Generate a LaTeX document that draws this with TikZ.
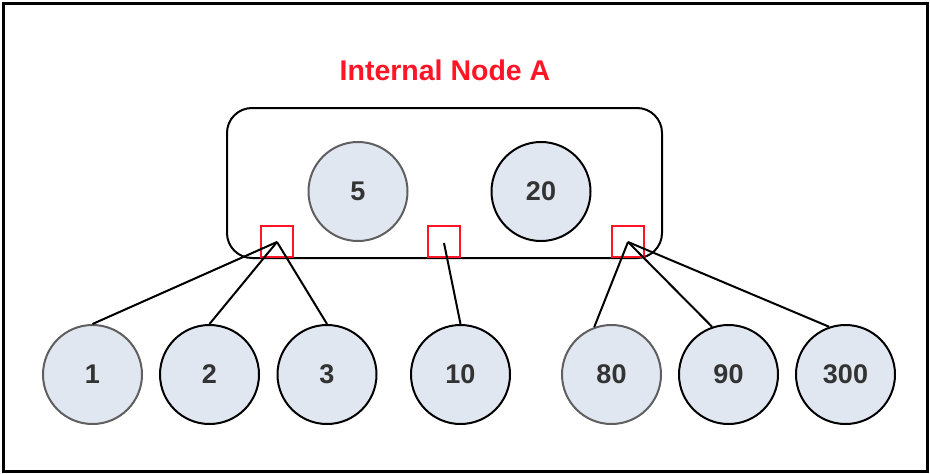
\documentclass[tikz,border=0pt]{standalone}
\usepackage{fontspec}
\setmainfont{Liberation Sans}
\definecolor{cfill}{HTML}{E1E7F1}
\definecolor{ctext}{HTML}{333333}
\definecolor{cred}{HTML}{FF1525}
\definecolor{cgray}{HTML}{5F5F5F}
\begin{document}
\begin{tikzpicture}[x=1pt,y=-1pt,
  keynode/.style={circle,draw=black,line width=2pt,fill=cfill,minimum size=99pt,inner sep=0pt,
    text=ctext,font=\fontsize{27}{27}\selectfont\bfseries},
  graynode/.style={keynode,draw=cgray},
  ptrbox/.style={draw=cred,line width=2.4pt,minimum width=32pt,minimum height=31pt,inner sep=0pt},
  conn/.style={line width=2pt,black},
  innerbox/.style={draw=black,line width=2pt,rounded corners=25pt},
  title/.style={text=cred,font=\fontsize{28.5}{28.5}\selectfont\bfseries}]
\useasboundingbox (0,0) rectangle (930,474);
\draw[line width=3pt] (3,3) rectangle (927,471);
\node[title,anchor=base] (ttl) at (445,80) {Internal Node A};
\draw[innerbox] (227,108) rectangle (662,258);
\node[graynode] (k5) at (358,191.5) {5};
\node[keynode] (k20) at (541,191.5) {20};
\node[ptrbox] (b1) at (277,241.5) {};
\node[ptrbox] (b2) at (444,241.5) {};
\node[ptrbox] (b3) at (628,241.5) {};
\coordinate (pL) at (277,242);
\coordinate (pM) at (444,243);
\coordinate (pR) at (628,242);
\node[graynode] (c1) at (92.5,374.5) {1};
\node[keynode] (c2) at (209.5,374.5) {2};
\node[keynode] (c3) at (327,374.5) {3};
\node[keynode] (c10) at (460.5,374.5) {10};
\node[graynode] (c80) at (611.5,374.5) {80};
\node[keynode] (c90) at (728.5,374.5) {90};
\node[keynode] (c300) at (845.5,374.5) {300};
\draw[conn] (pL) -- (c1.north);
\draw[conn] (pL) -- (c2.north);
\draw[conn] (pL) -- (c3.north);
\draw[conn] (pM) -- (c10.north);
\draw[conn] (pR) -- (c80.110);
\draw[conn] (pR) -- (c90.109);
\draw[conn] (pR) -- (c300.109);
\end{tikzpicture}
\end{document}
